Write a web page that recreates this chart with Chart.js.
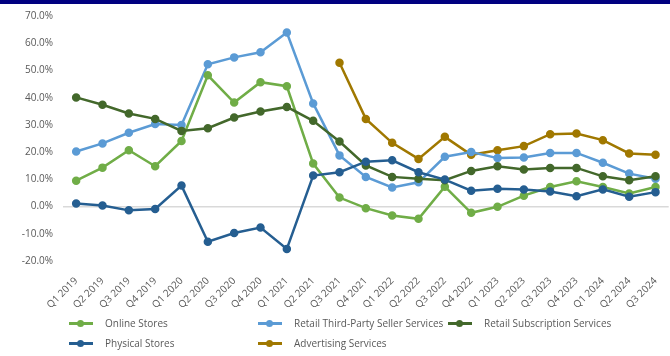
<!DOCTYPE html>
<html>
<head>
<meta charset="utf-8">
<script src="https://cdn.jsdelivr.net/npm/chart.js@4.4.1/dist/chart.umd.min.js"></script>
<style>
  body { margin: 0; background: #fff; font-family: "Open Sans", sans-serif; }
  #wrap { position: relative; width: 670px; height: 356px; overflow: hidden; }
  #topbar { position: absolute; left: 0; top: 0; width: 670px; height: 4px; background: #000080; }
  #growth { position: absolute; left: 0; top: 0; }
  .lg { position: absolute; font-size: 10px; color: #595959; white-space: nowrap; line-height: 12px; }
  .lg i { position: absolute; left: -36px; top: 5px; width: 24px; height: 3px; }
  .lg b { position: absolute; left: -28px; top: 3px; width: 7px; height: 7px; border-radius: 50%; }
</style>
</head>
<body>
<div id="wrap">
  <canvas id="growth" width="670" height="356"></canvas>
  <div id="topbar"></div>
  <div id="legend"></div>
</div>
<script>
var QUARTERS = ["Q1 2019", "Q2 2019", "Q3 2019", "Q4 2019", "Q1 2020", "Q2 2020", "Q3 2020", "Q4 2020",
  "Q1 2021", "Q2 2021", "Q3 2021", "Q4 2021", "Q1 2022", "Q2 2022", "Q3 2022", "Q4 2022",
  "Q1 2023", "Q2 2023", "Q3 2023", "Q4 2023", "Q1 2024", "Q2 2024", "Q3 2024"];

// yoy growth, %
var ONLINE = [9.5, 14.3, 20.7, 14.8, 24.1, 48.2, 38.2, 45.7, 44.2, 15.8, 3.3, -0.6, -3.3, -4.5, 7.3, -2.3, -0.1, 4.0, 7.2, 9.3, 7.2, 4.8, 7.2];
var THIRD_PARTY = [20.2, 23.2, 27.1, 30.3, 30.0, 52.3, 54.8, 56.7, 63.9, 37.9, 18.8, 10.9, 7.0, 8.9, 18.3, 20.0, 17.8, 18.0, 19.7, 19.7, 16.1, 12.1, 10.2];
var SUBSCRIPTION = [40.1, 37.4, 34.2, 32.2, 27.8, 28.8, 32.7, 34.9, 36.6, 31.5, 23.9, 15.1, 10.9, 10.2, 9.7, 13.1, 14.8, 13.6, 14.2, 14.2, 11.1, 9.7, 11.1];
var PHYSICAL = [1.1, 0.4, -1.4, -0.9, 7.7, -12.9, -9.7, -7.7, -15.6, 11.4, 12.6, 16.5, 17.0, 12.6, 9.9, 5.8, 6.5, 6.3, 5.5, 3.8, 6.3, 3.6, 5.3];
var ADVERTISING = [null, null, null, null, null, null, null, null, null, null, 52.8, 32.2, 23.4, 17.5, 25.6, 19.0, 20.7, 22.2, 26.6, 26.8, 24.4, 19.5, 19.0];

var GREEN = "#70ad47", LBLUE = "#5b9bd5", DGREEN = "#43682b", DBLUE = "#255e91", GOLD = "#a07800";

function series(label, data, color) {
  return {
    label: label, data: data, borderColor: color, backgroundColor: color,
    borderWidth: 2.5, pointRadius: 3, pointHoverRadius: 3, tension: 0, spanGaps: false
  };
}

var ctx = document.getElementById("growth").getContext("2d");
var chart = new Chart(ctx, {
  type: "line",
  data: {
    labels: QUARTERS,
    datasets: [
      series("Physical Stores", PHYSICAL, DBLUE),
      series("Retail Subscription Services", SUBSCRIPTION, DGREEN),
      series("Online Stores", ONLINE, GREEN),
      series("Retail Third-Party Seller Services", THIRD_PARTY, LBLUE),
      series("Advertising Services", ADVERTISING, GOLD)
    ]
  },
  options: {
    responsive: false,
    animation: false,
    layout: { autoPadding: false, padding: { top: 16, right: 0, bottom: 45, left: 0 } },
    plugins: { legend: { display: false }, tooltip: { enabled: false } },
    scales: {
      x: {
        offset: true,
        grid: { display: false },
        border: { display: false },
        ticks: { color: "#595959", font: { size: 10, family: "Open Sans" }, maxRotation: 45, minRotation: 45, padding: 6, autoSkip: false },
        afterFit: function (s) { s.height = 50; }
      },
      y: {
        min: -20, max: 70,
        border: { display: false },
        grid: {
          drawTicks: false,
          color: function (c) { return c.tick && c.tick.value === 0 ? "#d9d9d9" : "rgba(0,0,0,0)"; },
          lineWidth: 1.5
        },
        ticks: {
          stepSize: 10, padding: 10, color: "#595959", font: { size: 10, family: "Open Sans" },
          callback: function (v) { return v.toFixed(1) + "%"; }
        },
        afterFit: function (s) { s.width = 63; }
      }
    }
  }
});

// legend laid out in a grid like the original
var LEGEND = [
  ["Online Stores", GREEN, 105, 317],
  ["Retail Third-Party Seller Services", LBLUE, 294, 317],
  ["Retail Subscription Services", DGREEN, 484, 317],
  ["Physical Stores", DBLUE, 105, 337],
  ["Advertising Services", GOLD, 294, 337]
];
var lg = document.getElementById("legend");
LEGEND.forEach(function (e) {
  var d = document.createElement("div");
  d.className = "lg";
  d.style.left = e[2] + "px";
  d.style.top = e[3] + "px";
  d.innerHTML = '<i style="background:' + e[1] + '"></i><b style="background:' + e[1] + '"></b>' + e[0];
  lg.appendChild(d);
});
</script>
</body>
</html>
